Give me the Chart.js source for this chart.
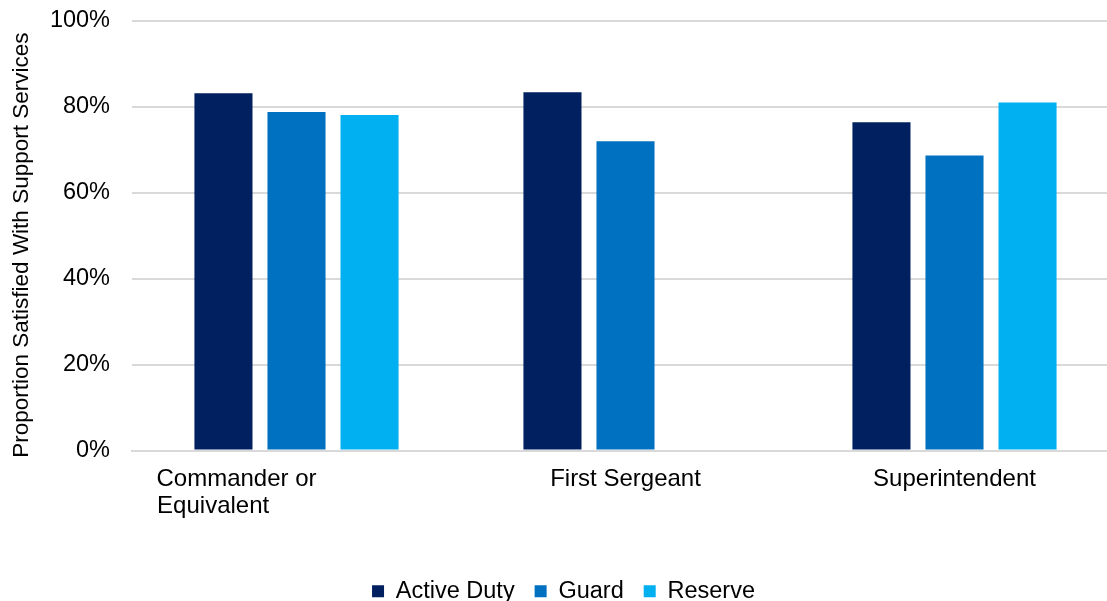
<!DOCTYPE html>
<html>
<head>
<meta charset="utf-8">
<script src="https://cdn.jsdelivr.net/npm/chart.js@4"></script>
<style>
  html, body { margin: 0; padding: 0; background: #fff; overflow: hidden; }
  /* plot runs a little past the right edge, like the original */
  #wrap { width: 1119px; height: 601px; }
</style>
</head>
<body>
<div id="wrap"><canvas id="chart"></canvas></div>
<script>
// Categories (the first one is padded so its lines sit left like in the original)
const categories = [
    ['Commander or                  ', 'Equivalent                         '],
    'First Sergeant',
    'Superintendent'
];
const activeDuty = [83.2, 83.4, 76.4];
const guard = [78.8, 72.0, 68.7];
const reserve = [78.1, null, 81.0];
const yTicks = [0, 20, 40, 60, 80, 100];

const FONT = 'Liberation Sans, Arial, sans-serif';
const GRID = '#d9d9d9';

const ctx = document.getElementById('chart').getContext('2d');
new Chart(ctx, {
    type: 'bar',
    data: {
        labels: categories,
        datasets: [
            { label: 'Active Duty', data: activeDuty, backgroundColor: '#002060' },
            { label: 'Guard', data: guard, backgroundColor: '#0070c0' },
            { label: 'Reserve', data: reserve, backgroundColor: '#00b0f0' }
        ]
    },
    options: {
        responsive: true,
        maintainAspectRatio: false,
        animation: false,
        datasets: {
            bar: {
                barPercentage: 0.795,
                categoryPercentage: 0.666
            }
        },
        layout: {
            padding: { top: 21, right: 0, left: 8, bottom: -12 }
        },
        plugins: {
            legend: {
                position: 'bottom',
                labels: {
                    font: { family: FONT, size: 23.5 },
                    color: '#000',
                    boxWidth: 12,
                    boxHeight: 12,
                    padding: 20
                }
            },
            tooltip: { enabled: false }
        },
        scales: {
            x: {
                grid: { display: false, drawTicks: false },
                border: { display: true, color: GRID, width: 2 },
                afterFit: axis => {
                    axis.height += 25;
                    axis.paddingLeft = 0;
                    axis.paddingRight = 0;
                },
                ticks: {
                    font: { family: FONT, size: 24, lineHeight: 1.125 },
                    color: '#000',
                    padding: 15,
                    maxRotation: 0,
                    autoSkip: false
                }
            },
            y: {
                min: 0,
                max: 100,
                afterBuildTicks: axis => {
                    axis.ticks = yTicks.map(v => ({ value: v }));
                },
                afterFit: axis => {
                    axis.width = 124;
                    axis.paddingTop = 0;
                    axis.paddingBottom = 0;
                },
                grid: { color: GRID, lineWidth: 2, drawTicks: false },
                border: { display: false },
                ticks: {
                    font: { family: FONT, size: 23.5 },
                    color: '#000',
                    padding: 22,
                    callback: v => v + '%'
                },
                title: {
                    display: true,
                    text: 'Proportion Satisfied With Support Services   ',
                    font: { family: FONT, size: 22.5 },
                    color: '#000',
                    padding: { top: 0, bottom: 4 }
                }
            }
        }
    }
});
</script>
</body>
</html>
